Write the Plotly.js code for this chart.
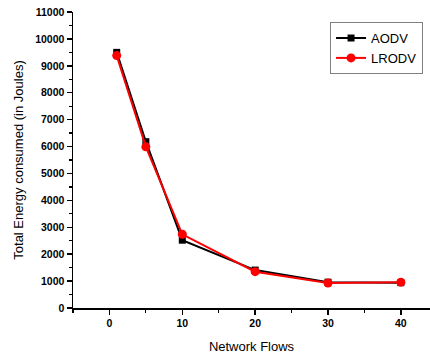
<!DOCTYPE html>
<html>
<head>
<meta charset="utf-8">
<script src="https://cdn.plot.ly/plotly-3.0.1.min.js"></script>
<style>html,body{margin:0;padding:0;background:#fff;}#chart{width:430px;height:354px;}</style>
</head>
<body>
<div id="chart"></div>
<script>
const flows = [1, 5, 10, 20, 30, 40];
const aodv = [9500, 6180, 2520, 1410, 960, 940];
const lrodv = [9380, 5990, 2740, 1350, 930, 960];
const xTicks = [0, 10, 20, 30, 40];

const traces = [
  {x: flows, y: aodv, name: 'AODV', mode: 'lines+markers',
   line: {color: '#000000', width: 2}, marker: {symbol: 'square', size: 7, color: '#000000'}},
  {x: flows, y: lrodv, name: 'LRODV', mode: 'lines+markers',
   line: {color: '#ff0000', width: 2}, marker: {symbol: 'circle', size: 9, color: '#ff0000'}}
];

const layout = {
  width: 430, height: 354,
  margin: {l: 73, r: 0, t: 12, b: 46},
  paper_bgcolor: '#ffffff', plot_bgcolor: '#ffffff',
  font: {family: 'Liberation Sans, Arial, sans-serif', color: '#000'},
  showlegend: true,
  legend: {x: 0.72, y: 0.966, xanchor: 'left', yanchor: 'top',
    bordercolor: '#808080', borderwidth: 1, bgcolor: '#ffffff',
    font: {size: 13, family: 'Liberation Sans, Arial, sans-serif'}, tracegroupgap: 0},
  xaxis: {
    range: [-5, 44], tickvals: xTicks, ticktext: xTicks.map(String),
    showgrid: false, zeroline: false, showline: true, linecolor: '#000', linewidth: 1.5,
    ticks: 'outside', ticklen: 5, tickwidth: 1.5, tickcolor: '#000',
    minor: {dtick: 5, ticks: 'outside', ticklen: 3, tickwidth: 1.2, tickcolor: '#000', showgrid: false},
    tickfont: {size: 10.5, weight: 700, family: 'Liberation Sans, Arial, sans-serif'},
    title: {text: 'Network Flows', font: {size: 13}, standoff: 14}
  },
  yaxis: {
    range: [0, 11000], dtick: 1000, tick0: 0, tickformat: 'd',
    showgrid: false, zeroline: false, showline: true, linecolor: '#000', linewidth: 1.5,
    ticks: 'outside', ticklen: 5, tickwidth: 1.5, tickcolor: '#000',
    minor: {dtick: 500, ticks: 'outside', ticklen: 3, tickwidth: 1.2, tickcolor: '#000', showgrid: false},
    tickfont: {size: 10.5, weight: 700, family: 'Liberation Sans, Arial, sans-serif'},
    title: {text: 'Total Energy consumed (in Joules)', font: {size: 13}, standoff: 8}
  }
};

Plotly.newPlot('chart', traces, layout, {displayModeBar: false, staticPlot: true});
</script>
</body>
</html>
